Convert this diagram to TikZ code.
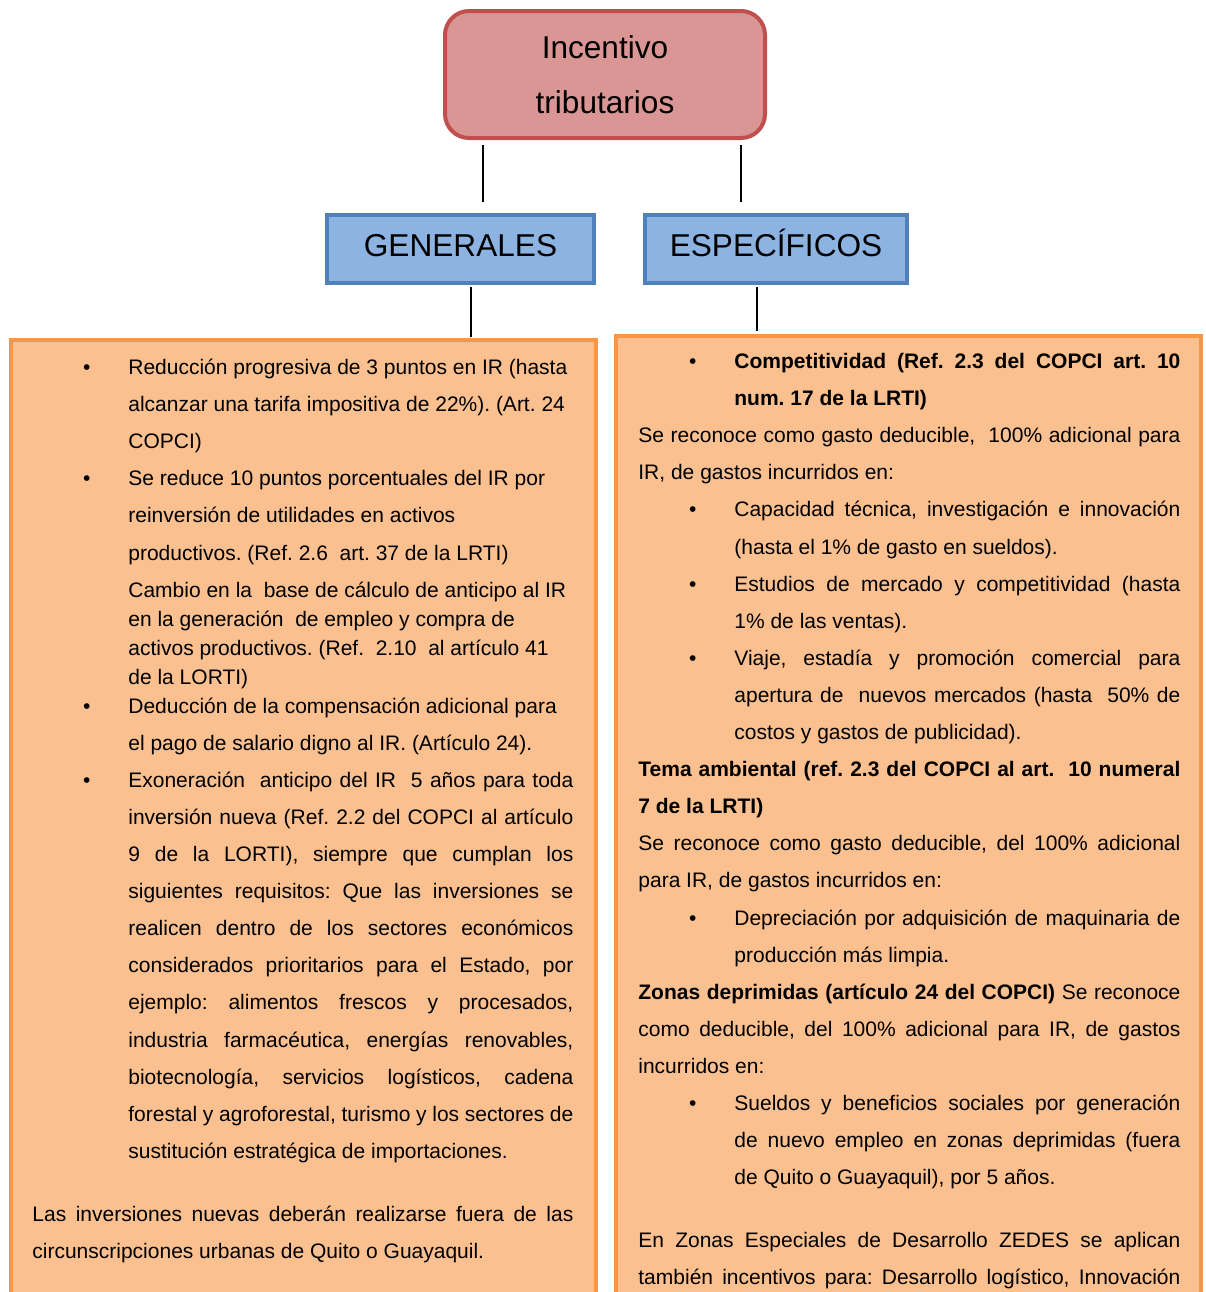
\documentclass[tikz,border=0pt]{standalone}
\usepackage{fontspec}
\setmainfont{Liberation Sans}
\usetikzlibrary{positioning}

\definecolor{incfill}{HTML}{D99694}
\definecolor{incdraw}{HTML}{C0504D}
\definecolor{catfill}{HTML}{8DB3E2}
\definecolor{catdraw}{HTML}{4F81BD}
\definecolor{listfill}{HTML}{FAC090}
\definecolor{listdraw}{HTML}{F79646}

% one pixel of the drawing
\newlength\px
\setlength\px{0.5pt}

% bullet paragraph and indented paragraph without bullet
\newcommand\bul{\par\hangindent=96\px\hangafter=0\noindent\llap{\textbullet\hspace{38\px}}}
\newcommand\contpar{\par\hangindent=96\px\hangafter=0\noindent}
\newcommand\bodyfont{\fontsize{10.5}{18.55}\selectfont\frenchspacing}

\tikzset{
  catbox/.style={rectangle, draw=catdraw, fill=catfill, line width=2pt,
    minimum height=68\px, text height=11.5pt, text depth=4pt,
    font=\fontsize{15.8}{19}\selectfont},
  listbox/.style={rectangle, draw=listdraw, fill=listfill, line width=2pt,
    minimum width=585\px, minimum height=1100\px, anchor=north west},
  listtext/.style={anchor=base west, inner sep=0pt},
  link/.style={line width=1pt, black}
}

\begin{document}
\begin{tikzpicture}[x=0.5pt, y=0.5pt]
\useasboundingbox (0,0) rectangle (1206,-1292);
\clip (0,0) rectangle (1206,-1292);

% Root
\node[rectangle, rounded corners=12pt, draw=incdraw, fill=incfill, line width=2pt,
      minimum width=320\px, minimum height=127\px, align=center,
      font=\fontsize{15.8}{27.5}\selectfont] (inc) at (605,-74.5) {Incentivo\\tributarios};

% Two kinds
\node[catbox, minimum width=267\px] (gen) at (460.5,-249) {GENERALES};
\node[catbox, minimum width=262\px] (esp) at (776,-249) {ESPECÍFICOS};

% Lists
\node[listbox] (genbox) at (9,-338) {};
\node[listbox] (espbox) at (614,-334) {};

\node[listtext] (gentext) at ([shift={(23,-36.5)}]genbox.north west) {%
\begin{minipage}[t]{541\px}\bodyfont
\bul Reducción progresiva de 3 puntos en IR (hasta\\
alcanzar una tarifa impositiva de 22\%). (Art. 24\\
COPCI)
\bul Se reduce 10 puntos porcentuales del IR por\\
reinversión de utilidades en activos\\
productivos. (Ref. 2.6 \ art. 37 de la LRTI)
\par\vspace{4.05pt}
{\fontsize{10.5}{14.5}\selectfont
\contpar Cambio en la \ base de cálculo de anticipo al IR\\
en la generación \ de empleo y compra de\\
activos productivos. (Ref. \ 2.10 \ al artículo 41\\
de la LORTI)\par}
\vspace{-4.05pt}
\bul Deducción de la compensación adicional para\\
el pago de salario digno al IR. (Artículo 24).
\bul Exoneración \ anticipo del IR \ 5 años para toda\linebreak
inversión nueva (Ref. 2.2 del COPCI al artículo\linebreak
9 de la LORTI), siempre que cumplan los\linebreak
siguientes requisitos: Que las inversiones se\linebreak
realicen dentro de los sectores económicos\linebreak
considerados prioritarios para el Estado, por\linebreak
ejemplo: alimentos frescos y procesados,\linebreak
industria farmacéutica, energías renovables,\linebreak
biotecnología, servicios logísticos, cadena\linebreak
forestal y agroforestal, turismo y los sectores de\linebreak
sustitución estratégica de importaciones.
\par\vspace{12.95pt}
\noindent Las inversiones nuevas deberán realizarse fuera de las\linebreak
circunscripciones urbanas de Quito o Guayaquil.
\end{minipage}};

\node[listtext] (esptext) at ([shift={(24,-34.5)}]espbox.north west) {%
\begin{minipage}[t]{542\px}\bodyfont
\bul\textbf{Competitividad (Ref. 2.3 del COPCI art. 10\linebreak
num. 17 de la LRTI)}
\par\noindent Se reconoce como gasto deducible, \ 100\% adicional para\linebreak
IR, de gastos incurridos en:
\bul Capacidad técnica, investigación e innovación\linebreak
(hasta el 1\% de gasto en sueldos).
\bul Estudios de mercado y competitividad (hasta\linebreak
1\% de las ventas).
\bul Viaje, estadía y promoción comercial para\linebreak
apertura de \ nuevos mercados (hasta \ 50\% de\linebreak
costos y gastos de publicidad).
\par\noindent\textbf{Tema ambiental (ref. 2.3 del COPCI al art. \ 10 numeral\linebreak
7 de la LRTI)}
\par\noindent Se reconoce como gasto deducible, del 100\% adicional\linebreak
para IR, de gastos incurridos en:
\bul Depreciación por adquisición de maquinaria de\linebreak
producción más limpia.
\par\noindent\textbf{Zonas deprimidas (artículo 24 del COPCI)} Se reconoce\linebreak
como deducible, del 100\% adicional para IR, de gastos\linebreak
incurridos en:
\bul Sueldos y beneficios sociales por generación\linebreak
de nuevo empleo en zonas deprimidas (fuera\linebreak
de Quito o Guayaquil), por 5 años.
\par\vspace{12.95pt}
\noindent En Zonas Especiales de Desarrollo ZEDES se aplican\linebreak
también incentivos para: Desarrollo logístico, Innovación{\parfillskip=0pt\par}
\end{minipage}};

% Connectors
\coordinate (incL) at ([shift={(40,-5)}]inc.south west);
\coordinate (incR) at ([shift={(-26,-5)}]inc.south east);
\coordinate (genL) at ([shift={(10,-2)}]gen.south);
\coordinate (espL) at ([shift={(-19,-2)}]esp.south);

\draw[link, shorten >=11\px] (incL) -- (incL |- gen.north);
\draw[link, shorten >=11\px] (incR) -- (incR |- esp.north);
\draw[link, shorten >=1\px] (genL) -- (genL |- genbox.north);
\draw[link, shorten >=3\px] (espL) -- (espL |- espbox.north);

\end{tikzpicture}
\end{document}
